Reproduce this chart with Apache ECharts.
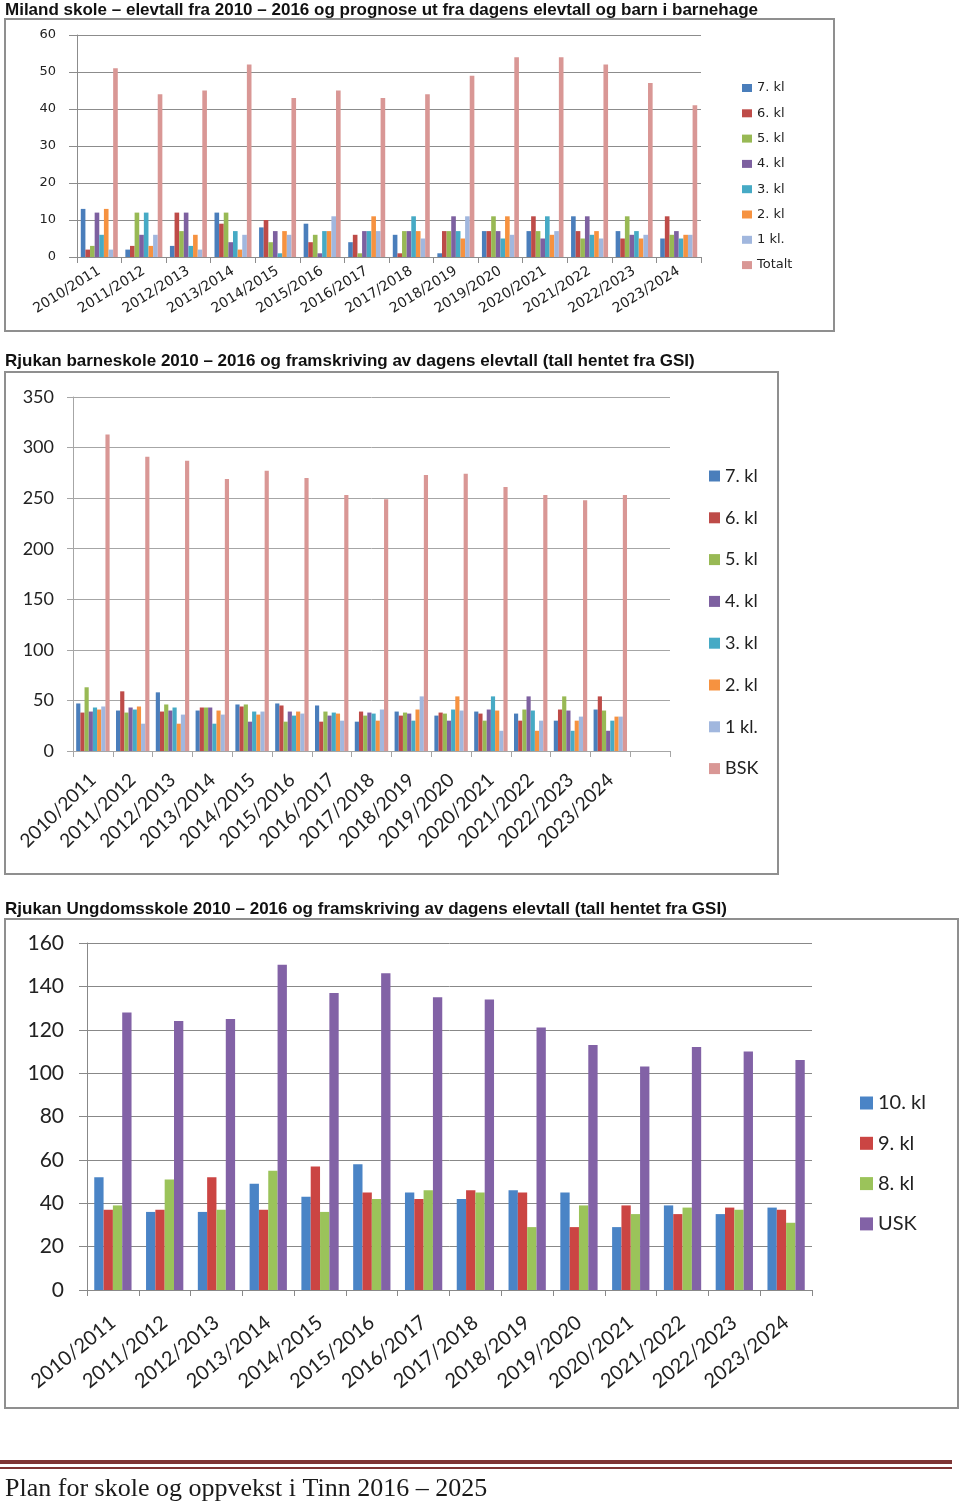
<!DOCTYPE html>
<html>
<head>
<meta charset="utf-8">
<script src="https://cdn.jsdelivr.net/npm/echarts@6/dist/echarts.min.js"></script>
<style>
  html, body { margin: 0; padding: 0; background: #fff; }
  #wrap { position: relative; width: 960px; height: 1503px; }
  .layer { position: absolute; left: 0; top: 0; width: 960px; height: 1503px; }
</style>
</head>
<body>
<div id="wrap">
  <div id="c1" class="layer"></div>
  <div id="c2" class="layer"></div>
  <div id="c3" class="layer"></div>
</div>
<script>
// ---------- DATA ----------
const categories = ['2010/2011','2011/2012','2012/2013','2013/2014','2014/2015','2015/2016','2016/2017',
  '2017/2018','2018/2019','2019/2020','2020/2021','2021/2022','2022/2023','2023/2024'];

// Chart 1: Miland skole
const milandNames = ['7. kl','6. kl','5. kl','4. kl','3. kl','2. kl','1 kl.','Totalt'];
const miland7 = [13, 2, 3, 12, 8, 9, 4, 6, 1, 7, 7, 11, 7, 5];
const miland6 = [2, 3, 12, 9, 10, 4, 6, 1, 7, 7, 11, 7, 5, 11];
const miland5 = [3, 12, 7, 12, 4, 6, 1, 7, 7, 11, 7, 5, 11, 6];
const miland4 = [12, 6, 12, 4, 7, 1, 7, 7, 11, 7, 5, 11, 6, 7];
const miland3 = [6, 12, 3, 7, 1, 7, 7, 11, 7, 5, 11, 6, 7, 5];
const miland2 = [13, 3, 6, 2, 7, 7, 11, 7, 5, 11, 6, 7, 5, 6];
const miland1 = [2, 6, 2, 6, 6, 11, 7, 5, 11, 6, 7, 5, 6, 6];
const milandTotal = [51, 44, 45, 52, 43, 45, 43, 44, 49, 54, 54, 52, 47, 41];
const milandTicks = [0, 10, 20, 30, 40, 50, 60];

// Chart 2: Rjukan barneskole
const bskNames = ['7. kl','6. kl','5. kl','4. kl','3. kl','2. kl','1 kl.','BSK'];
const bsk7 = [47, 40, 58, 40, 46, 47, 45, 29, 39, 35, 39, 37, 30, 41];
const bsk6 = [38, 59, 39, 43, 44, 45, 29, 39, 35, 38, 37, 30, 41, 54];
const bsk5 = [63, 38, 46, 43, 46, 29, 39, 35, 38, 37, 30, 41, 54, 40];
const bsk4 = [39, 43, 40, 43, 29, 39, 35, 38, 37, 30, 41, 54, 40, 20];
const bsk3 = [43, 41, 43, 27, 39, 35, 38, 37, 30, 41, 54, 40, 20, 30];
const bsk2 = [41, 44, 27, 40, 36, 39, 37, 30, 41, 54, 40, 20, 30, 34];
const bsk1 = [44, 27, 36, 36, 39, 37, 30, 41, 54, 40, 20, 30, 34, 34];
const bskTotal = [313, 291, 287, 269, 277, 270, 253, 249, 273, 274, 261, 253, 248, 253];
const bskTicks = [0, 50, 100, 150, 200, 250, 300, 350];

// Chart 3: Rjukan ungdomsskole
const uskNames = ['10. kl','9. kl','8. kl','USK'];
const usk10 = [52, 36, 36, 49, 43, 58, 45, 42, 46, 45, 29, 39, 35, 38];
const usk9  = [37, 37, 52, 37, 57, 45, 42, 46, 45, 29, 39, 35, 38, 37];
const usk8  = [39, 51, 37, 55, 36, 42, 46, 45, 29, 39, 35, 38, 37, 31];
const uskTotal = [128, 124, 125, 150, 137, 146, 135, 134, 121, 113, 103, 112, 110, 106];
const uskTicks = [0, 20, 40, 60, 80, 100, 120, 140, 160];

const title1 = 'Miland skole – elevtall fra 2010 – 2016 og prognose ut fra dagens elevtall og barn i barnehage';
const title2 = 'Rjukan barneskole 2010 – 2016 og framskriving av dagens elevtall (tall hentet fra GSI)';
const title3 = 'Rjukan Ungdomsskole 2010 – 2016 og framskriving av dagens elevtall (tall hentet fra GSI)';
const footerText = 'Plan for skole og oppvekst i Tinn 2016 – 2025';

// ---------- STYLE ----------
const pal8 = ['#4a7ebb','#be4b48','#98b954','#7d60a0','#46aac5','#f69240','#a1b7de','#d99795'];
const pal4 = ['#4a84c6','#cb4543','#9bc35a','#8262a6'];
const titleFont = 'bold 17px "Liberation Sans Narrow", "Liberation Sans", Arial, sans-serif';

function bars(names, arrays, colors, gap) {
  return names.map((n, i) => ({
    name: n, type: 'bar', data: arrays[i], barGap: '0%', barCategoryGap: gap,
    itemStyle: { color: colors[i] }, emphasis: { disabled: true }
  }));
}
function valueAxis(ticks, fs, family, margin, tickLen, col) {
  return {
    type: 'value', min: ticks[0], max: ticks[ticks.length - 1], interval: ticks[1] - ticks[0],
    axisLine: { show: true, lineStyle: { color: col, width: 1 } },
    axisTick: { show: true, length: tickLen, lineStyle: { color: col } },
    splitLine: { show: true, lineStyle: { color: col, width: 1 } },
    axisLabel: { fontSize: fs, fontFamily: family, color: '#222', margin: margin }
  };
}
function catAxis(data, fs, family, rot, margin, col) {
  return {
    type: 'category', data: data, boundaryGap: true,
    axisLine: { show: true, lineStyle: { color: col, width: 1 } },
    axisTick: { show: true, length: 6, alignWithLabel: false, lineStyle: { color: col } },
    axisLabel: { rotate: rot, interval: 0, fontSize: fs, fontFamily: family, color: '#222', margin: margin }
  };
}
function legend(names, left, top, iw, ih, fs, lh, gap, family) {
  return {
    data: names, orient: 'vertical', left: left, top: top, icon: 'rect',
    itemWidth: iw, itemHeight: ih, itemGap: gap, selectedMode: false,
    textStyle: { fontSize: fs, lineHeight: lh, fontFamily: family, color: '#222' }
  };
}
function box(x, y, w, h) {
  return { type: 'rect', shape: { x: x, y: y, width: w, height: h }, silent: true,
    style: { fill: 'none', stroke: '#8f8f8f', lineWidth: 2 } };
}
function titleText(t, y) {
  return { type: 'text', x: 5, y: y, silent: true,
    style: { text: t, font: titleFont, fill: '#111', verticalAlign: 'middle' } };
}

// ---------- CHART 1 ----------
const ch1 = echarts.init(document.getElementById('c1'), null, { renderer: 'canvas' });
ch1.setOption({
  animation: false,
  graphic: [titleText(title1, 10), box(5, 19, 829, 312)],
  grid: { left: 77, top: 35, width: 624, height: 222 },
  xAxis: catAxis(categories, 14, 'DejaVu Sans', 32, 13, '#8c8c8c'),
  yAxis: valueAxis(milandTicks, 13, 'DejaVu Sans', 21, 8, '#8c8c8c'),
  legend: legend(milandNames, 737, 75, 10, 8, 13, 16, 9.3, 'DejaVu Sans'),
  series: bars(milandNames, [miland7, miland6, miland5, miland4, miland3, miland2, miland1, milandTotal], pal8, '17%')
});

// ---------- CHART 2 ----------
const ch2 = echarts.init(document.getElementById('c2'), null, { renderer: 'canvas' });
ch2.setOption({
  animation: false,
  graphic: [titleText(title2, 361), box(5, 372, 773, 502)],
  grid: { left: 73, top: 397, width: 597, height: 354 },
  xAxis: catAxis(categories.concat(['']), 19, 'Lato', 44, 26, '#a6a6a6'),
  yAxis: valueAxis(bskTicks, 18, 'Lato', 19, 6, '#a6a6a6'),
  legend: legend(bskNames, 704, 460, 11, 11, 18, 22, 19.8, 'Lato'),
  series: bars(bskNames, [bsk7, bsk6, bsk5, bsk4, bsk3, bsk2, bsk1, bskTotal], pal8, '16%')
});

// ---------- CHART 3 ----------
const ch3 = echarts.init(document.getElementById('c3'), null, { renderer: 'canvas' });
ch3.setOption({
  animation: false,
  graphic: [
    titleText(title3, 909), box(5, 919, 953, 489),
    { type: 'rect', shape: { x: 0, y: 1460, width: 952, height: 4 }, silent: true, style: { fill: '#7e3434' } },
    { type: 'rect', shape: { x: 0, y: 1467, width: 952, height: 2 }, silent: true, style: { fill: '#7e3434' } },
    { type: 'text', x: 5, y: 1489, silent: true,
      style: { text: footerText, font: '26px "Liberation Serif", "DejaVu Serif", serif', fill: '#1a1a1a', verticalAlign: 'middle' } }
  ],
  grid: { left: 87, top: 943, width: 725, height: 347 },
  xAxis: catAxis(categories, 20, 'Lato', 39, 30, '#888888'),
  yAxis: valueAxis(uskTicks, 21, 'Lato', 23, 8, '#888888'),
  legend: legend(uskNames, 855, 1087, 13, 13, 20, 22, 18.3, 'Lato'),
  series: bars(uskNames, [usk10, usk9, usk8, uskTotal], pal4, '28%')
});
</script>
</body>
</html>
